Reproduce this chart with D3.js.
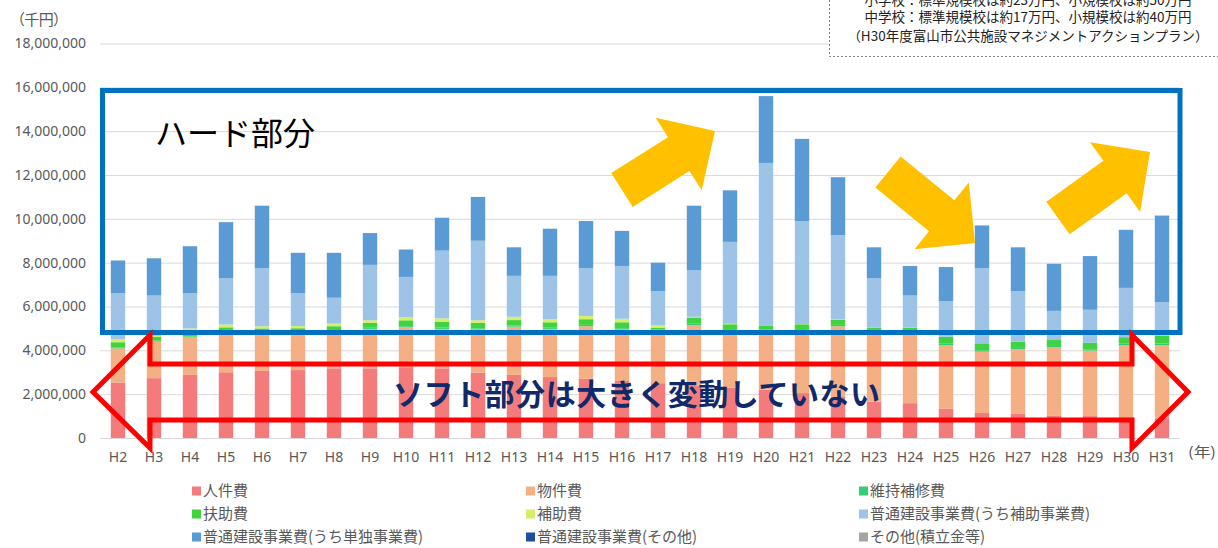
<!DOCTYPE html>
<html lang="ja">
<head>
<meta charset="utf-8">
<script src="https://cdn.jsdelivr.net/npm/d3@7"></script>
<style>
  body { margin: 0; background: #fff; }
  svg { display: block; font-family: "Noto Sans CJK JP", "Noto Sans", sans-serif; }
</style>
</head>
<body>
<svg id="chart" width="1218" height="548"></svg>
<script>
// 年度
const years = ["H2", "H3", "H4", "H5", "H6", "H7", "H8", "H9", "H10", "H11", "H12", "H13", "H14", "H15", "H16",
    "H17", "H18", "H19", "H20", "H21", "H22", "H23", "H24", "H25", "H26", "H27", "H28", "H29", "H30", "H31"];

// 千円
const jinkenhi = [2530000, 2730000, 2880000, 3000000, 3060000, 3100000, 3180000, 3180000, 3230000, 3180000,
    2980000, 2880000, 2780000, 2700000, 2600000, 2500000, 2400000, 2300000, 2200000, 2050000,
    1900000, 1660000, 1590000, 1330000, 1140000, 1100000, 1030000, 1000000, 950000, 900000];
const bukkenhi = [1560000, 1670000, 1710000, 1750000, 1690000, 1660000, 1620000, 1800000, 1820000, 1800000,
    1970000, 2200000, 2200000, 2400000, 2350000, 2420000, 2750000, 2620000, 2720000, 2870000,
    3200000, 3240000, 3280000, 2910000, 2800000, 2950000, 3110000, 2990000, 3290000, 3340000];
const ijihoshuhi = [40000, 40000, 40000, 50000, 50000, 40000, 50000, 50000, 50000, 60000,
    50000, 50000, 50000, 60000, 60000, 30000, 60000, 50000, 40000, 50000,
    60000, 30000, 40000, 60000, 60000, 60000, 60000, 60000, 60000, 70000];
const fujohi = [240000, 180000, 240000, 250000, 200000, 210000, 250000, 220000, 270000, 270000,
    250000, 250000, 250000, 260000, 270000, 90000, 290000, 220000, 180000, 220000,
    240000, 90000, 130000, 320000, 320000, 290000, 270000, 300000, 300000, 360000];
const hojohi = [130000, 40000, 130000, 130000, 100000, 100000, 120000, 120000, 150000, 150000,
    120000, 150000, 150000, 150000, 160000, 100000, 30000, 20000, 10000, 10000,
    20000, 10000, 10000, 0, 0, 0, 0, 0, 0, 0];
const hojoJigyo = [2100000, 1840000, 1600000, 2120000, 2650000, 1490000, 1180000, 2530000, 1830000, 3090000,
    3630000, 1870000, 1970000, 2180000, 2410000, 1560000, 2120000, 3740000, 7400000, 4700000,
    3830000, 2270000, 1450000, 1630000, 3430000, 2300000, 1330000, 1500000, 2250000, 1530000];
const tandokuJigyo = [1500000, 1700000, 2150000, 2550000, 2850000, 1850000, 2050000, 1450000, 1250000, 1500000,
    2000000, 1300000, 2150000, 2150000, 1600000, 1300000, 2950000, 2350000, 3050000, 3750000,
    2650000, 1400000, 1350000, 1550000, 1950000, 2000000, 2150000, 2450000, 2650000, 3950000];
const kensetsuSonota = years.map(() => 0);
const sonota = years.map(() => 0);

const seriesNames = ["人件費", "物件費", "維持補修費", "扶助費", "補助費",
    "普通建設事業費(うち補助事業費)", "普通建設事業費(うち単独事業費)", "普通建設事業費(その他)", "その他(積立金等)"];
const seriesValues = [jinkenhi, bukkenhi, ijihoshuhi, fujohi, hojohi, hojoJigyo, tandokuJigyo, kensetsuSonota, sonota];
const seriesColors = ["#f47b7b", "#f4b084", "#33cc77", "#3fd43f", "#d6ef6a", "#9dc3e6", "#5b9bd5", "#1f4e9c", "#a5a5a5"];

const yTicks = [0, 2000000, 4000000, 6000000, 8000000, 10000000, 12000000, 14000000, 16000000, 18000000];

const noteLines = ["小学校：標準規模校は約23万円、小規模校は約50万円",
    "中学校：標準規模校は約17万円、小規模校は約40万円",
    "（H30年度富山市公共施設マネジメントアクションプラン）"];

const svg = d3.select("#chart");
const plot = { left: 100, right: 1180, top: 43.5, bottom: 438 };

const x = d3.scaleBand().domain(years).range([plot.left, plot.right]).paddingInner(0.6).paddingOuter(0.3);
const y = d3.scaleLinear().domain([0, 18000000]).range([plot.bottom, plot.top]);

const rows = years.map((yr, i) => {
    const r = { year: yr };
    seriesNames.forEach((n, k) => { r[n] = seriesValues[k][i]; });
    return r;
});
const stacked = d3.stack().keys(seriesNames)(rows);

// gridlines
svg.append("g")
    .attr("transform", `translate(${plot.left},0)`)
    .call(d3.axisLeft(y).tickValues(yTicks).tickSize(-(plot.right - plot.left)).tickFormat(""))
    .call(g => g.select(".domain").remove())
    .call(g => g.selectAll("line").attr("stroke", "#d9d9d9"));

// y labels
svg.append("g")
    .attr("transform", "translate(86,0)")
    .call(d3.axisLeft(y).tickValues(yTicks).tickSize(0).tickPadding(0).tickFormat(d3.format(",")))
    .call(g => g.select(".domain").remove())
    .call(g => g.selectAll("text").attr("fill", "#595959").attr("font-size", 14)
        .attr("font-family", "'Noto Sans', sans-serif"));

svg.append("text").attr("x", 10).attr("y", 25).attr("fill", "#595959").attr("font-size", 15)
    .text("（千円）").attr("textLength", 58);

// bars
svg.append("g").selectAll("g")
    .data(stacked)
    .join("g")
    .attr("fill", (d, i) => seriesColors[i])
    .selectAll("rect")
    .data(d => d)
    .join("rect")
    .attr("x", d => x(d.data.year))
    .attr("width", x.bandwidth())
    .attr("y", d => y(d[1]))
    .attr("height", d => y(d[0]) - y(d[1]));

// x labels
svg.append("g")
    .attr("transform", `translate(0,${plot.bottom + 14})`)
    .call(d3.axisBottom(x).tickSize(0).tickPadding(0))
    .call(g => g.select(".domain").remove())
    .call(g => g.selectAll("text").attr("fill", "#595959").attr("font-size", 14)
        .attr("font-family", "'Noto Sans', sans-serif"));

svg.append("text").attr("x", 1188).attr("y", 457).attr("fill", "#595959").attr("font-size", 14)
    .attr("textLength", 28).attr("lengthAdjust", "spacingAndGlyphs").text("(年)");

// hard part box
svg.append("rect")
    .attr("x", 102.5).attr("y", 90.5)
    .attr("width", 1180 - 102.5).attr("height", 332.5 - 90.5)
    .attr("fill", "none").attr("stroke", "#0070c0").attr("stroke-width", 5);

svg.append("text").attr("x", 155).attr("y", 145).attr("font-size", 32).attr("fill", "#000")
    .text("ハード部分");

// soft part double arrow
const softArrow = [[93, 392], [150, 335], [150, 364], [1132, 364], [1132, 335], [1188, 392],
    [1132, 448], [1132, 420], [150, 420], [150, 448]];
svg.append("polygon")
    .attr("points", softArrow.map(p => p.join(",")).join(" "))
    .attr("fill", "none").attr("stroke", "#ff0000").attr("stroke-width", 5)
    .attr("stroke-linejoin", "miter");

svg.append("text").attr("x", 393).attr("y", 405).attr("font-size", 30).attr("font-weight", "bold")
    .attr("textLength", 487).attr("fill", "#10296b").text("ソフト部分は大きく変動していない");

// orange trend arrows
function arrowPoints(tail, tip, shaftW, headW, headL) {
    const dx = tip[0] - tail[0], dy = tip[1] - tail[1], len = Math.hypot(dx, dy);
    const ux = dx / len, uy = dy / len, nx = -uy, ny = ux;
    const bx = tip[0] - ux * headL, by = tip[1] - uy * headL;
    const p = (px, py, o) => [px + nx * o, py + ny * o];
    return [p(tail[0], tail[1], shaftW / 2), p(bx, by, shaftW / 2), p(bx, by, headW / 2), tip,
        p(bx, by, -headW / 2), p(bx, by, -shaftW / 2), p(tail[0], tail[1], -shaftW / 2)];
}
const trendArrows = [
    { tail: [622, 190], tip: [715, 131] },
    { tail: [888, 172], tip: [975, 243] },
    { tail: [1058, 218], tip: [1150, 152] }
];
svg.append("g").selectAll("polygon")
    .data(trendArrows)
    .join("polygon")
    .attr("points", d => arrowPoints(d.tail, d.tip, 40, 86, 43).map(p => p.join(",")).join(" "))
    .attr("fill", "#ffc000");

// source note
svg.append("rect").attr("x", 829.5).attr("y", -5).attr("width", 400).attr("height", 61.5)
    .attr("fill", "#fff").attr("stroke", "#7f7f7f").attr("stroke-dasharray", "2,2");
svg.append("g").selectAll("text")
    .data(noteLines)
    .join("text")
    .attr("x", 1028)
    .attr("y", (d, i) => [5, 22, 41][i])
    .attr("text-anchor", "middle")
    .attr("font-size", 13.5)
    .attr("fill", "#222")
    .text(d => d);

// legend
const legendCols = [192, 526, 859];
const legendRows = [491, 514, 537];
const legend = svg.append("g").selectAll("g")
    .data(seriesNames)
    .join("g")
    .attr("transform", (d, i) => `translate(${legendCols[i % 3]},${legendRows[Math.floor(i / 3)]})`);
legend.append("rect").attr("x", 0).attr("y", -4.5).attr("width", 9).attr("height", 9)
    .attr("fill", (d, i) => seriesColors[i]);
legend.append("text").attr("x", 11).attr("dy", "0.35em").attr("font-size", 15).attr("fill", "#595959")
    .text(d => d);
</script>
</body>
</html>
